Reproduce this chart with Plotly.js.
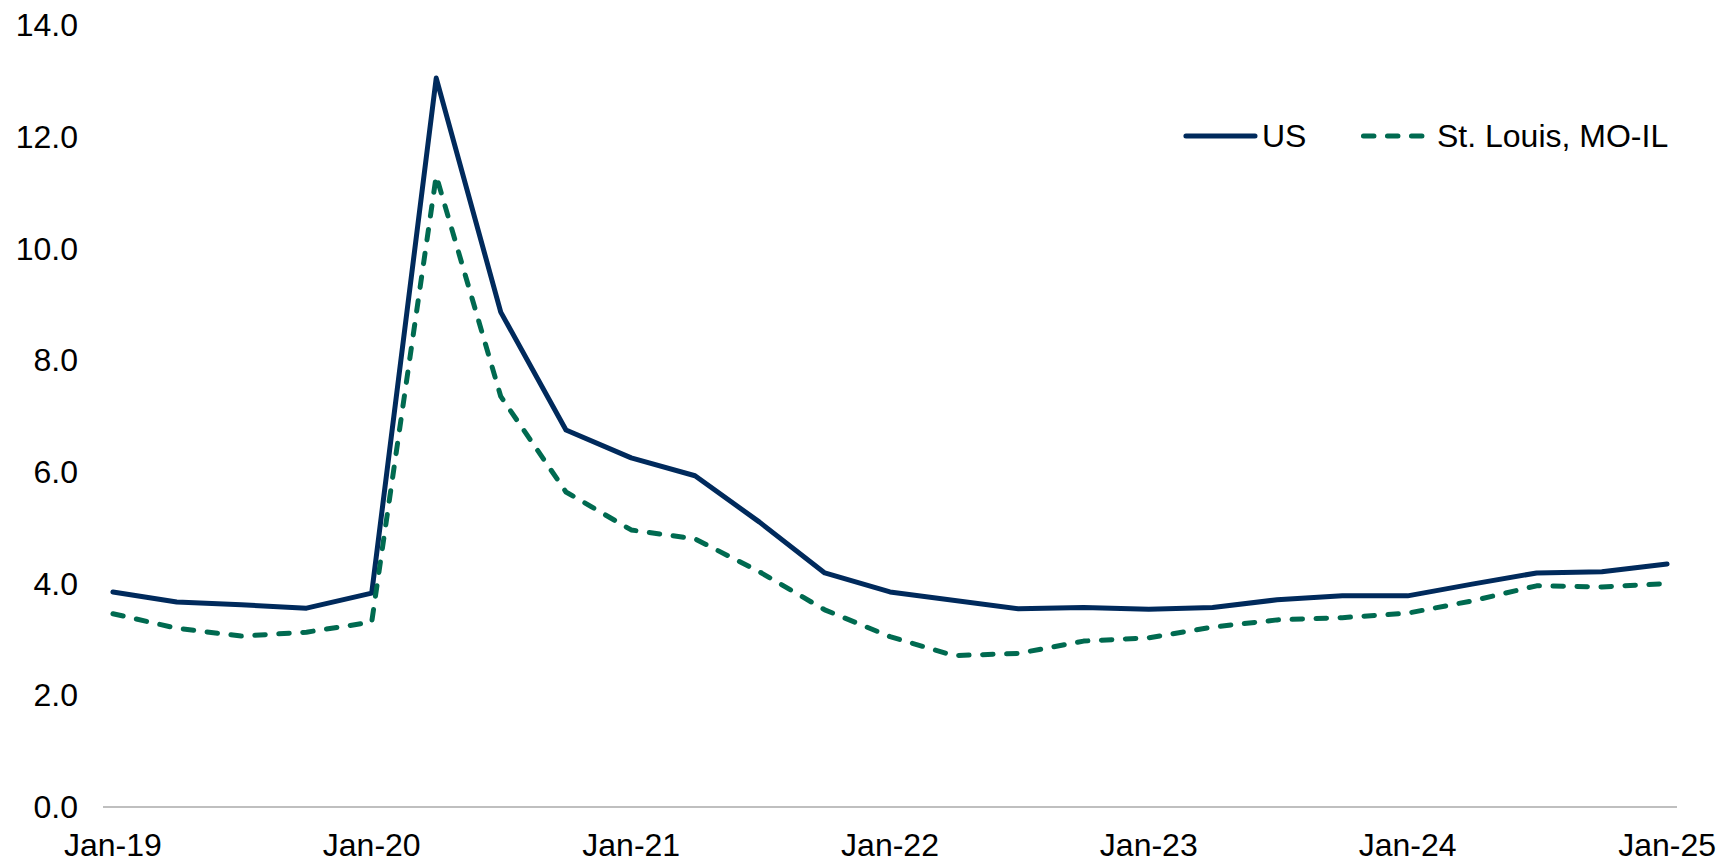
<!DOCTYPE html>
<html>
<head>
<meta charset="utf-8">
<script src="https://cdn.plot.ly/plotly-3.0.1.min.js"></script>
<style>
  html, body { margin: 0; padding: 0; background: #ffffff; }
  #chart { width: 1726px; height: 863px; }
  /* rounded ends on the line strokes and dashes */
  .scatterlayer path.js-line, .shapelayer path { stroke-linecap: round; stroke-linejoin: round; }
</style>
</head>
<body>
<div id="chart"></div>
<script>
// Quarterly observations, Jan-2019 .. Jan-2025
const quarters = [
  '2019-01-01', '2019-04-01', '2019-07-01', '2019-10-01',
  '2020-01-01', '2020-04-01', '2020-07-01', '2020-10-01',
  '2021-01-01', '2021-04-01', '2021-07-01', '2021-10-01',
  '2022-01-01', '2022-04-01', '2022-07-01', '2022-10-01',
  '2023-01-01', '2023-04-01', '2023-07-01', '2023-10-01',
  '2024-01-01', '2024-04-01', '2024-07-01', '2024-10-01',
  '2025-01-01'
];

const usRate = [
  3.85, 3.67, 3.62, 3.56,
  3.83, 13.05, 8.86, 6.75,
  6.25, 5.93, 5.10, 4.19,
  3.85, 3.69, 3.55, 3.57,
  3.54, 3.57, 3.71, 3.78,
  3.78, 3.99, 4.19, 4.21,
  4.35
];

const stlRate = [
  3.46, 3.20, 3.06, 3.13,
  3.31, 11.30, 7.35, 5.64,
  4.96, 4.80, 4.21, 3.53,
  3.05, 2.71, 2.75, 2.97,
  3.03, 3.22, 3.35, 3.39,
  3.47, 3.69, 3.96, 3.94,
  4.00
];

const seriesNames = ['US', 'St. Louis, MO-IL'];
const xTickVals = ['2019-01-01', '2020-01-01', '2021-01-01', '2022-01-01', '2023-01-01', '2024-01-01', '2025-01-01'];
const yTickVals = [0, 2, 4, 6, 8, 10, 12, 14];

const navy = '#002a5c';
const green = '#006a50';
const lineWidth = 5;
const dashPattern = '10.5px,13.5px';
const fontFamily = 'Arial, "Liberation Sans", sans-serif';
const fontSize = 32;

const traces = [
  {
    x: quarters, y: usRate, name: seriesNames[0],
    type: 'scatter', mode: 'lines',
    line: { color: navy, width: lineWidth },
    hoverinfo: 'x+y'
  },
  {
    x: quarters, y: stlRate, name: seriesNames[1],
    type: 'scatter', mode: 'lines',
    line: { color: green, width: lineWidth, dash: dashPattern },
    hoverinfo: 'x+y'
  }
];

// legend drawn as sample strokes plus labels, top right of the plot
const legendY = 0.858;
const shapes = [
  { type: 'line', xref: 'paper', yref: 'paper', x0: 0.688, x1: 0.7319, y0: legendY, y1: legendY,
    line: { color: navy, width: lineWidth } },
  { type: 'line', xref: 'paper', yref: 'paper', x0: 0.8008, x1: 0.8380, y0: legendY, y1: legendY,
    line: { color: green, width: lineWidth, dash: dashPattern } }
];
const annotations = [
  { xref: 'paper', yref: 'paper', x: 0.735, y: legendY, xanchor: 'left', yanchor: 'middle',
    text: seriesNames[0], showarrow: false, font: { family: fontFamily, size: fontSize, color: '#000' } },
  { xref: 'paper', yref: 'paper', x: 0.8465, y: legendY, xanchor: 'left', yanchor: 'middle',
    text: seriesNames[1], showarrow: false, font: { family: fontFamily, size: fontSize, color: '#000' } }
];

const layout = {
  width: 1726, height: 863,
  margin: { l: 103, r: 49, t: 25, b: 56, pad: 0 },
  paper_bgcolor: '#ffffff', plot_bgcolor: '#ffffff',
  font: { family: fontFamily, size: fontSize, color: '#000000' },
  showlegend: false,
  xaxis: {
    type: 'date',
    range: ['2018-12-18', '2025-01-15'],
    tickvals: xTickVals,
    tickformat: '%b-%y',
    showgrid: false, zeroline: false,
    showline: false,
    ticks: '', ticklabelstandoff: 16,
    tickfont: { family: fontFamily, size: fontSize, color: '#000' }
  },
  yaxis: {
    range: [0, 14],
    tickvals: yTickVals,
    tickformat: '.1f',
    showgrid: false,
    zeroline: true, zerolinecolor: '#bfbfbf', zerolinewidth: 2,
    showline: false,
    ticks: '', ticklabelstandoff: 24,
    tickfont: { family: fontFamily, size: fontSize, color: '#000' }
  },
  shapes: shapes,
  annotations: annotations
};

Plotly.newPlot('chart', traces, layout, { displayModeBar: false, staticPlot: true });
</script>
</body>
</html>
